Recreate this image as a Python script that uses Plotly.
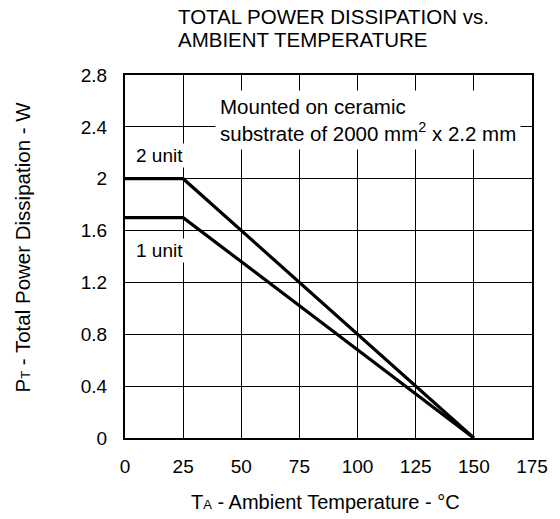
import plotly.graph_objects as go

temps_2unit = [0, 25, 150]
power_2unit = [2.0, 2.0, 0.0]
temps_1unit = [0, 25, 150]
power_1unit = [1.7, 1.7, 0.0]

x_ticks = [0, 25, 50, 75, 100, 125, 150, 175]
y_ticks = [0, 0.4, 0.8, 1.2, 1.6, 2.0, 2.4, 2.8]
y_tick_text = ["0", "0.4", "0.8", "1.2", "1.6", "2", "2.4", "2.8"]

FONT = "Liberation Sans, Arial, sans-serif"
FS = 19

L, R, T, B = 125, 22, 75, 81
W, H = 560, 519
PW, PH = W - L - R, H - T - B

fig = go.Figure()
fig.add_trace(go.Scatter(x=temps_2unit, y=power_2unit, mode="lines",
                         line=dict(color="black", width=3.2), showlegend=False))
fig.add_trace(go.Scatter(x=temps_1unit, y=power_1unit, mode="lines",
                         line=dict(color="black", width=3.2), showlegend=False))

fig.update_layout(
    width=W, height=H,
    margin=dict(l=L, r=R, t=T, b=B),
    paper_bgcolor="white", plot_bgcolor="white",
    font=dict(family=FONT, size=FS, color="black"),
)
fig.update_xaxes(range=[0, 175], tickvals=x_ticks, showgrid=True,
                 gridcolor="black", gridwidth=1, showline=True, linecolor="black",
                 linewidth=2, mirror=True, zeroline=False, ticks="",
                 ticklabelstandoff=10)
fig.update_yaxes(range=[0, 2.8], tickvals=y_ticks, ticktext=y_tick_text, showgrid=True,
                 gridcolor="black", gridwidth=1, showline=True, linecolor="black",
                 linewidth=2, mirror=True, zeroline=False, ticks="",
                 ticklabelstandoff=12)

def ypix(p):
    return (H - p - B) / PH

def xpix(p):
    return (p - L) / PW

# title (two lines)
fig.add_annotation(xref="paper", yref="paper", x=xpix(177), y=ypix(17),
                   xanchor="left", yanchor="middle", showarrow=False,
                   text="TOTAL POWER DISSIPATION vs.", font=dict(size=20.5))
fig.add_annotation(xref="paper", yref="paper", x=xpix(177), y=ypix(39),
                   xanchor="left", yanchor="middle", showarrow=False,
                   text="AMBIENT TEMPERATURE", font=dict(size=20.5))
# axis titles
fig.add_annotation(xref="paper", yref="paper", x=xpix(328), y=ypix(502),
                   xanchor="center", yanchor="middle", showarrow=False,
                   text="T<span style='font-size:13px'>A</span> - Ambient Temperature - °C",
                   font=dict(size=20))
fig.add_annotation(xref="paper", yref="paper", x=xpix(20), y=ypix(247),
                   xanchor="center", yanchor="middle", showarrow=False, textangle=-90,
                   text="P<span style='font-size:13px'>T</span> - Total Power Dissipation - W",
                   font=dict(size=20.5))

fig.add_annotation(x=4.0, y=2.18, text="2 unit", showarrow=False, xanchor="left",
                   bgcolor="white", borderpad=1)
fig.add_annotation(x=4.0, y=1.45, text="1 unit", showarrow=False, xanchor="left",
                   bgcolor="white", borderpad=1)
fig.add_annotation(x=38.5, y=2.455, text="Mounted on ceramic<br>substrate of 2000 mm<sup>2</sup> x 2.2 mm",
                   showarrow=False, xanchor="left", align="left",
                   bgcolor="white", borderpad=4, font=dict(size=20.5))

fig.write_html("out.html", config={"displayModeBar": False},
               post_script="document.body.style.margin='0px';")
